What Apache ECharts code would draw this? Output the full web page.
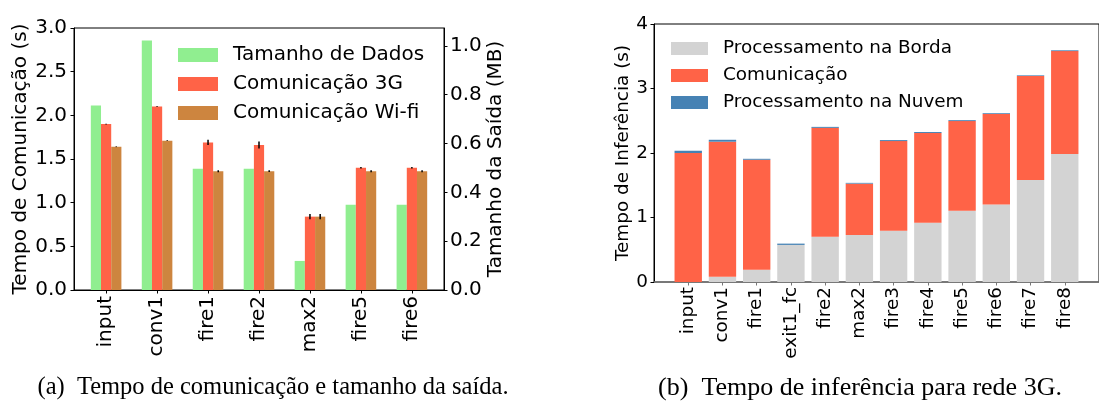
<!DOCTYPE html>
<html><head><meta charset="utf-8">
<script src="https://cdn.jsdelivr.net/npm/echarts@6/dist/echarts.min.js"></script>
<style>html,body{margin:0;padding:0;background:#fff}#c{width:1099px;height:409px}</style>
</head><body><div id="c"></div>
<script>
// ---- (a) communication time and output size ----
const layersA = ['input', 'conv1', 'fire1', 'fire2', 'max2', 'fire5', 'fire6'];
const dataSizeMB = [0.756, 1.022, 0.497, 0.497, 0.119, 0.349, 0.349];
const comm3G = [1.90, 2.10, 1.69, 1.66, 0.84, 1.40, 1.40];
const comm3GErr = [0.005, 0.005, 0.03, 0.04, 0.03, 0.008, 0.008];
const commWifi = [1.64, 1.71, 1.36, 1.36, 0.84, 1.36, 1.36];
const commWifiErr = [0.004, 0.004, 0.012, 0.01, 0.03, 0.012, 0.012];
const leftTicksA = [0, 0.5, 1.0, 1.5, 2.0, 2.5, 3.0];
const rightTicksA = [0, 0.2, 0.4, 0.6, 0.8, 1.0];

// ---- (b) inference time, 3G ----
const layersB = ['input', 'conv1', 'fire1', 'exit1_fc', 'fire2', 'max2', 'fire3', 'fire4', 'fire5', 'fire6', 'fire7', 'fire8'];
const edgeProc = [0.0, 0.08, 0.19, 0.575, 0.70, 0.73, 0.795, 0.92, 1.105, 1.20, 1.58, 1.985];
const commB = [2.0, 2.095, 1.705, 0.0, 1.69, 0.795, 1.39, 1.39, 1.39, 1.405, 1.615, 1.595];
const cloudProc = [0.035, 0.03, 0.015, 0.02, 0.015, 0.012, 0.015, 0.015, 0.014, 0.012, 0.01, 0.012];
const ticksB = [0, 1, 2, 3, 4];

const FONT = 'DejaVu Sans';
const idxA = layersA.map((_, i) => i);
const idxB = layersB.map((_, i) => i);

function errSeries(name, vals, errs, offset) {
  return {
    type: 'custom', name: name, xAxisIndex: 0, yAxisIndex: 0, z: 5,
    data: vals.map((v, i) => [i, v, errs[i]]),
    renderItem: function (params, api) {
      const x = api.value(0) + offset, y = api.value(1), e = api.value(2);
      const p1 = api.coord([x, y - e]);
      const p2 = api.coord([x, y + e]);
      return { type: 'line', shape: { x1: p1[0], y1: p1[1], x2: p2[0], y2: p2[1] },
               style: { stroke: '#000', lineWidth: 1.5 } };
    }
  };
}
// stacked bars on a value base axis: value first, position second, so the value dimension is stacked
function stackBar(name, color, vals) {
  return { name: name, type: 'bar', stack: 'b', xAxisIndex: 1, yAxisIndex: 2, barWidth: '80%',
    encode: { x: 1, y: 0 }, itemStyle: { color: color }, data: vals.map((v, i) => [v, i]) };
}

const chart = echarts.init(document.getElementById('c'), null, { renderer: 'canvas' });
chart.setOption({
  animation: false,
  textStyle: { fontFamily: FONT, color: '#000' },
  grid: [
    { left: 74, right: 655, top: 28, bottom: 119, show: true, borderColor: '#000', borderWidth: 1, backgroundColor: 'transparent' },
    { left: 654, right: -10, top: 24, bottom: 127, show: true, borderColor: '#000', borderWidth: 1, backgroundColor: 'transparent' }
  ],
  xAxis: [
    { gridIndex: 0, type: 'value', min: -0.63, max: 6.63,
      axisLine: { show: true, onZero: false, lineStyle: { color: '#000', width: 1 } },
      axisTick: { show: true, customValues: idxA, length: 3.5, lineStyle: { color: '#000' } },
      axisLabel: { customValues: idxA, formatter: v => layersA[Math.round(v)], rotate: 90, fontSize: 20, margin: 6, color: '#000', fontFamily: FONT },
      splitLine: { show: false } },
    { gridIndex: 1, type: 'value', min: -1, max: 12,
      axisLine: { show: true, onZero: false, lineStyle: { color: '#777', width: 1.5 } },
      axisTick: { show: true, customValues: idxB, length: 3.5, lineStyle: { color: '#777' } },
      axisLabel: { customValues: idxB, formatter: v => layersB[Math.round(v)], rotate: 90, fontSize: 18.4, margin: 5, color: '#000', fontFamily: FONT },
      splitLine: { show: false } }
  ],
  yAxis: [
    { gridIndex: 0, type: 'value', min: 0, max: 3, interval: 0.5, position: 'left',
      name: 'Tempo de Comunicação (s)', nameLocation: 'middle', nameGap: 43, nameRotate: 90,
      nameTextStyle: { fontSize: 20, color: '#000', fontFamily: FONT },
      axisLine: { show: true, onZero: false, lineStyle: { color: '#000' } },
      axisTick: { show: true, customValues: leftTicksA, length: 3.5, lineStyle: { color: '#000' } },
      axisLabel: { customValues: leftTicksA, formatter: v => v.toFixed(1), fontSize: 20, margin: 7, color: '#000', fontFamily: FONT },
      splitLine: { show: false } },
    { gridIndex: 0, type: 'value', min: 0, max: 1.073, position: 'right',
      name: 'Tamanho da Saída (MB)', nameLocation: 'middle', nameGap: 42, nameRotate: 90,
      nameTextStyle: { fontSize: 20, color: '#000', fontFamily: FONT },
      axisLine: { show: true, onZero: false, lineStyle: { color: '#000' } },
      axisTick: { show: true, customValues: rightTicksA, length: 3.5, lineStyle: { color: '#000' } },
      axisLabel: { customValues: rightTicksA, formatter: v => v.toFixed(1), fontSize: 20, margin: 6, color: '#000', fontFamily: FONT },
      splitLine: { show: false } },
    { gridIndex: 1, type: 'value', min: 0, max: 4, interval: 1, position: 'left',
      name: 'Tempo de Inferência (s)', nameLocation: 'middle', nameGap: 21, nameRotate: 90,
      nameTextStyle: { fontSize: 18.4, color: '#000', fontFamily: FONT },
      axisLine: { show: true, onZero: false, lineStyle: { color: '#000' } },
      axisTick: { show: true, customValues: ticksB, length: 3.5, lineStyle: { color: '#000' } },
      axisLabel: { customValues: ticksB, fontSize: 18.4, margin: 6, color: '#000', fontFamily: FONT },
      splitLine: { show: false } }
  ],
  legend: [
    { data: ['Tamanho de Dados', 'Comunicação 3G', 'Comunicação Wi-fi'], orient: 'vertical',
      left: 178, top: 45, padding: 0, itemWidth: 40, itemHeight: 14, itemGap: 9, icon: 'rect',
      selectedMode: false,
      textStyle: { fontSize: 20, lineHeight: 20, padding: [0, 0, 0, 10], color: '#000', fontFamily: FONT } },
    { data: ['Processamento na Borda', 'Comunicação', 'Processamento na Nuvem'], orient: 'vertical',
      left: 671, top: 39, padding: 0, itemWidth: 37, itemHeight: 13, itemGap: 8, icon: 'rect',
      selectedMode: false,
      textStyle: { fontSize: 18.4, lineHeight: 19, padding: [0, 0, 0, 10], color: '#000', fontFamily: FONT } }
  ],
  series: [
    { name: 'Tamanho de Dados', type: 'bar', xAxisIndex: 0, yAxisIndex: 1, barWidth: '20%', barGap: '0%',
      itemStyle: { color: '#90EE90' }, data: dataSizeMB.map((v, i) => [i, v]) },
    { name: 'Comunicação 3G', type: 'bar', xAxisIndex: 0, yAxisIndex: 0, barWidth: '20%', barGap: '0%',
      itemStyle: { color: '#FF6347' }, data: comm3G.map((v, i) => [i, v]) },
    { name: 'Comunicação Wi-fi', type: 'bar', xAxisIndex: 0, yAxisIndex: 0, barWidth: '20%', barGap: '0%',
      itemStyle: { color: '#CD853F' }, data: commWifi.map((v, i) => [i, v]) },
    errSeries('err3G', comm3G, comm3GErr, 0),
    errSeries('errWifi', commWifi, commWifiErr, 0.2),
    stackBar('Processamento na Borda', '#D3D3D3', edgeProc),
    stackBar('Comunicação', '#FF6347', commB),
    stackBar('Processamento na Nuvem', '#4682B4', cloudProc)
  ],
  graphic: [
    { type: 'text', x: 273, y: 388, style: { text: '(a)\u2002Tempo de comunicação e tamanho da saída.', font: '24.5px "Liberation Serif"', fill: '#000', textAlign: 'center', textVerticalAlign: 'middle' } },
    { type: 'text', x: 860, y: 388, style: { text: '(b)\u2002Tempo de inferência para rede 3G.', font: '26px "Liberation Serif"', fill: '#000', textAlign: 'center', textVerticalAlign: 'middle' } }
  ]
});
</script>
</body></html>
